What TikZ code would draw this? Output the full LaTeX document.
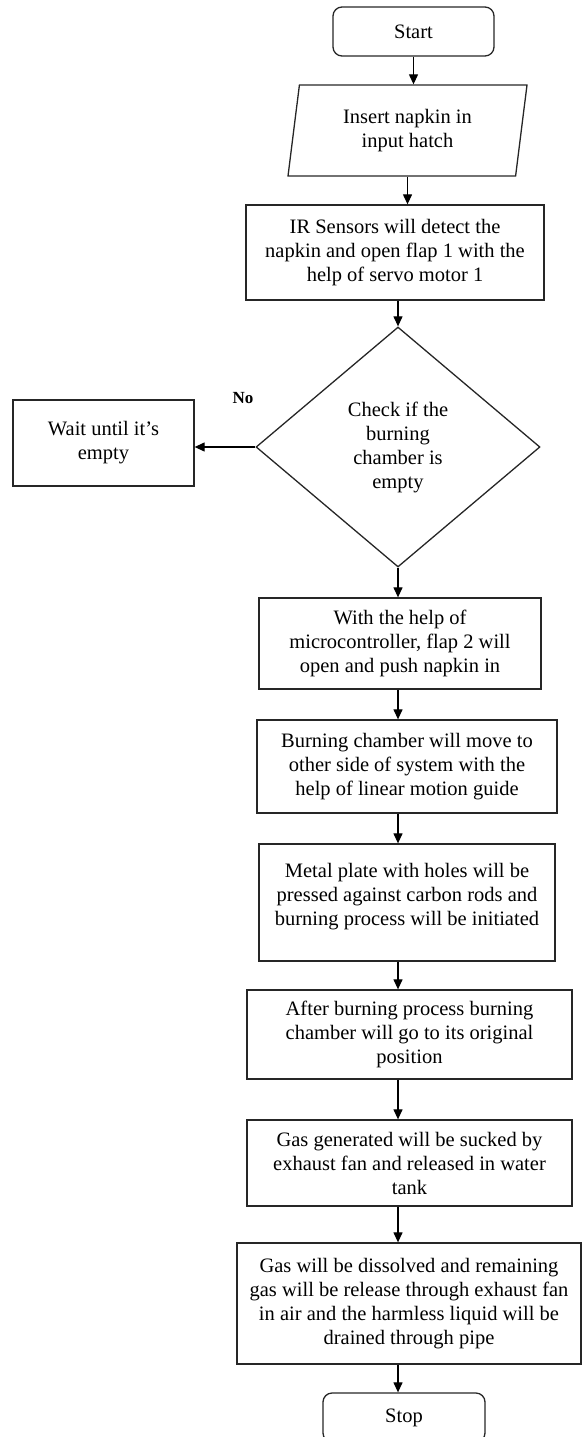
\documentclass[tikz,border=0pt]{standalone}
\usepackage{fontspec}
\setmainfont{Liberation Serif}
\usetikzlibrary{shapes.geometric,arrows.meta}
\begin{document}
\begin{tikzpicture}[x=1pt,y=-1pt]
        \tikzstyle{line} = [-{Triangle[length=10pt,width=9pt]}, line width=1.2pt]
        \tikzstyle{rec} = [rectangle, draw=black!85, line width=1.3pt, align=center, inner sep=0pt,
                font=\fontsize{20.5}{24}\selectfont]
        \tikzstyle{term} = [rec, rounded corners=9pt]
        \tikzstyle{io} = [rec, trapezium, trapezium left angle=75, trapezium right angle=105,
                trapezium stretches body]
        \tikzstyle{dec} = [rec, diamond]

        \useasboundingbox (0,0) rectangle (582,1437);

        \node(start) [term, minimum width=161pt, minimum height=49pt] at (413.5,31.5) {Start};
        \node(input) [io, minimum width=239pt, minimum height=91pt] at (407.5,130.5) {Insert napkin in\\ input hatch};
        \node(detect) [rec, minimum width=298pt, minimum height=95pt] at (395,252.5) {IR Sensors will detect the\\
        napkin and open flap 1 with the\\ help of servo motor 1};
        \node(check) [dec, minimum width=284pt, minimum height=240pt] at (398,447) {Check if the\\ burning\\
        chamber is\\ empty};
        \node(wait) [rec, minimum width=181pt, minimum height=86pt] at (103.5,443) {Wait until it’s\\ empty};
        \node(no) [font=\fontsize{17}{20}\selectfont\bfseries] at (243,398) {No};
        \node(flap) [rec, minimum width=282pt, minimum height=91pt] at (400,643.5) {With the help of\\
        microcontroller, flap 2 will\\ open and push napkin in};
        \node(move) [rec, minimum width=300pt, minimum height=93pt] at (407,766.5) {Burning chamber will move to\\
        other side of system with the\\ help of linear motion guide};
        \node(plate) [rec, minimum width=296pt, minimum height=117pt] at (407,902.5) {Metal plate with holes will be\\
        pressed against carbon rods and\\ burning process will be initiated\\[-8pt]\mbox{}};
        \node(back) [rec, minimum width=325pt, minimum height=89pt] at (409.5,1034.5) {After burning process burning\\
        chamber will go to its original\\ position};
        \node(suck) [rec, minimum width=325pt, minimum height=86pt] at (409.5,1163) {Gas generated will be sucked by\\
        exhaust fan and released in water\\ tank};
        \node(drain) [rec, minimum width=344pt, minimum height=121pt] at (409,1303.5) {Gas will be dissolved and remaining\\
        gas will be release through exhaust fan\\ in air and the harmless liquid will be\\ drained through pipe};
        \node(stop) [term, minimum width=162pt, minimum height=49pt] at (404,1417.5) {Stop};

        \draw[line] (start.south) -- (start.south |- input.north);
        \draw[line] (input.south) -- (input.south |- detect.north);
        \draw[line] (check.north |- detect.south) -- (check.north);
        \draw[line] (check.west) -- (wait.east |- check.west);
        \draw[line] (check.south) -- (check.south |- flap.north);
        \draw[line] (check.south |- flap.south) -- (check.south |- move.north);
        \draw[line] (check.south |- move.south) -- (check.south |- plate.north);
        \draw[line] (check.south |- plate.south) -- (check.south |- back.north);
        \draw[line] (check.south |- back.south) -- (check.south |- suck.north);
        \draw[line] (check.south |- suck.south) -- (check.south |- drain.north);
        \draw[line] (check.south |- drain.south) -- (check.south |- stop.north);
    \end{tikzpicture}
\end{document}
